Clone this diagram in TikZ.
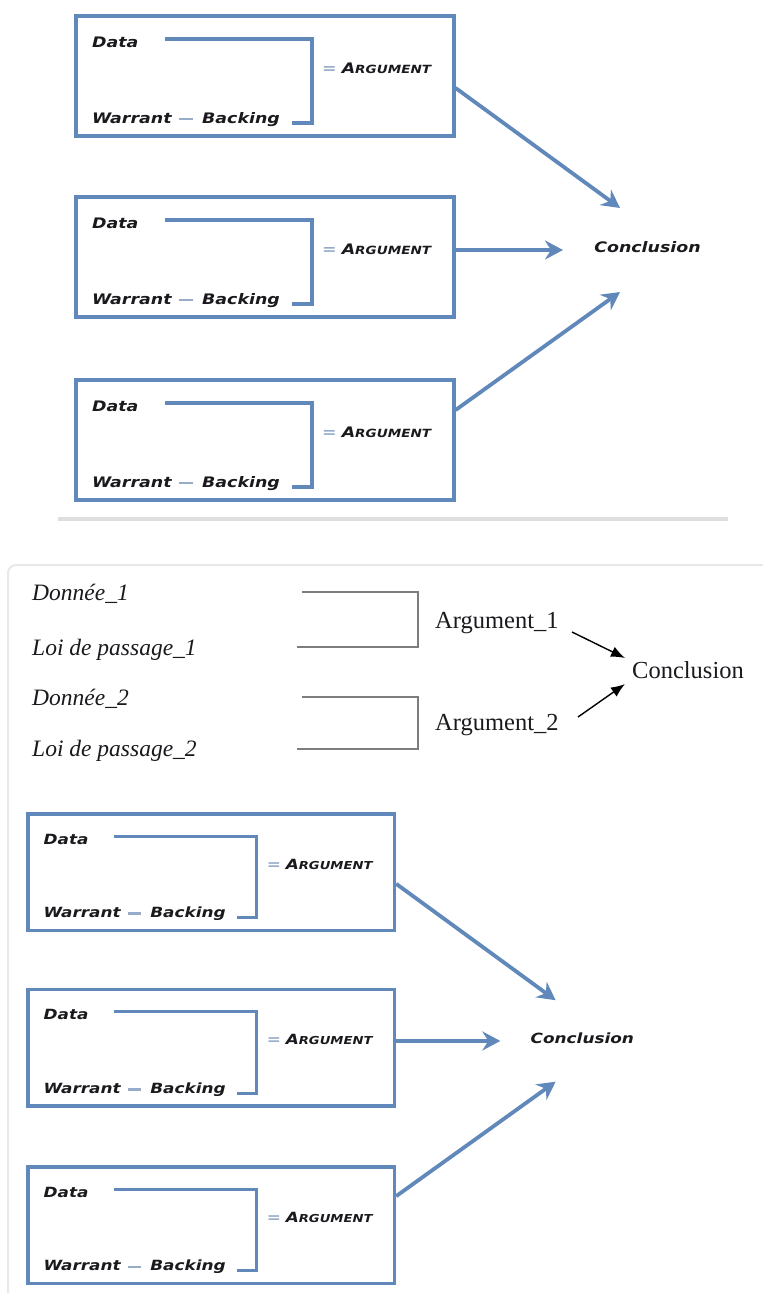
\documentclass[tikz,border=0pt]{standalone}
\usepackage{fontspec}
\newfontfamily\boxfont[FakeStretch=1.2]{DejaVu Sans}
\newfontfamily\schemefont{Liberation Serif}
\usetikzlibrary{arrows.meta}

\definecolor{toulblue}{RGB}{96,136,186}
\definecolor{dashblue}{RGB}{150,172,200}
\definecolor{inkdark}{RGB}{26,26,30}
\definecolor{bracketgrey}{RGB}{125,125,125}
\definecolor{rulegrey}{RGB}{222,222,222}
\definecolor{framegrey}{RGB}{232,232,232}

% One Toulmin panel: three boxes feeding a common conclusion.
% #1 = prefix for node names
\newcommand\toulminpanel[1]{%
  \foreach \k/\dy in {1/0,2/181,3/364}{%
    \node[bluebox] (#1box\k) at (265,76+\dy) {};
    \node[boxtext,anchor=base west] (#1data\k) at (92,47+\dy) {Data};
    \node[boxtext,anchor=base west] (#1war\k) at (92,123+\dy) {Warrant};
    \node[boxtext,anchor=base west] (#1back\k) at (202,123+\dy) {Backing};
    \node[boxtext,anchor=base west] (#1arg\k) at (322,73+\dy)
      {{\color{dashblue}=}\hspace{5pt}A{\fontsize{11.3}{12}\selectfont RGUMENT}};
    \coordinate (#1top\k) at (165,39+\dy);
    \coordinate (#1corner\k) at (312,123+\dy);
    \coordinate (#1bot\k) at (292,123+\dy);
    \draw[blueline] (#1top\k) -| (#1corner\k) -- (#1bot\k);
    \draw[dashline] ([xshift=7pt,yshift=-1pt]#1war\k.east) -- ([xshift=-9pt,yshift=-1pt]#1war\k.east -| #1back\k.west);
  }
  \node[boxtext] (#1concl) at (647.5,247) {Conclusion};
  \coordinate (#1tip1) at (620,208);
  \coordinate (#1tip2) at (563,250);
  \coordinate (#1tip3) at (620,292);
  \draw[bluearrow] ([yshift=-12pt]#1box1.east) -- (#1tip1);
  \draw[bluearrow] ([yshift=7pt]#1box2.east) -- (#1tip2);
  \draw[bluearrow] ([yshift=30pt]#1box3.east) -- (#1tip3);
}

\begin{document}
\begin{tikzpicture}[x=1pt,y=-1pt,
  bluebox/.style={draw=toulblue,line width=3.2pt,fill=white,
    minimum width=378pt,minimum height=120pt,inner sep=0pt},
  boxtext/.style={inner sep=0pt,text=inkdark,
    font=\boxfont\bfseries\itshape\fontsize{14.5}{16}\selectfont},
  blueline/.style={draw=toulblue,line width=3.2pt},
  dashline/.style={draw=dashblue,line width=2.5pt},
  bluearrow/.style={draw=toulblue,line width=3.8pt,
    -{Stealth[length=18pt,width=19pt,inset=6pt]}},
  midit/.style={inner sep=0pt,text=inkdark,
    font=\schemefont\itshape\fontsize{23.5}{26}\selectfont},
  midrm/.style={inner sep=0pt,text=inkdark,
    font=\schemefont\fontsize{24.5}{27}\selectfont},
  greybracket/.style={draw=bracketgrey,line width=2.5pt},
  blackarrow/.style={draw=black,line width=1.4pt,
    -{Latex[length=14pt,width=11pt]}}
]
\useasboundingbox (0,0) rectangle (763,1293);
\fill[white] (0,0) rectangle (763,1293);

% upper panel
\toulminpanel{u}

% separating rule under the upper panel
\draw[rulegrey,line width=4pt] (58,519) -- (728,519);

% frame of the lower part
\draw[framegrey,line width=2pt,rounded corners=8pt] (8,1293) -- (8,565) -- (763,565);

% French scheme with two arguments
\node[midit,anchor=base west] (d1) at (32,600) {Donnée\_1};
\node[midit,anchor=base west] (l1) at (32,655) {Loi de passage\_1};
\node[midit,anchor=base west] (d2) at (32,705) {Donnée\_2};
\node[midit,anchor=base west] (l2) at (32,756) {Loi de passage\_2};

\coordinate (b1a) at (302,592);
\coordinate (b1c) at (418,647);
\coordinate (b1b) at (297,647);
\coordinate (b2a) at (302,697);
\coordinate (b2c) at (418,749);
\coordinate (b2b) at (297,749);
\draw[greybracket] (b1a) -| (b1c) -- (b1b);
\draw[greybracket] (b2a) -| (b2c) -- (b2b);

\node[midrm,anchor=base west] (a1) at (435,628) {Argument\_1};
\node[midrm,anchor=base west] (a2) at (435,730) {Argument\_2};
\node[midrm,anchor=base west] (fc) at (632,678) {Conclusion};

\coordinate (s1) at (572,632);
\coordinate (e1) at (625,658);
\coordinate (s2) at (578,717);
\coordinate (e2) at (625,684);
\draw[blackarrow] (s1) -- (e1);
\draw[blackarrow] (s2) -- (e2);

% lower panel, a slightly reduced copy
\begin{scope}[shift={(-45.75,798.45)},scale=0.97,transform shape]
  \toulminpanel{l}
\end{scope}
\end{tikzpicture}
\end{document}
